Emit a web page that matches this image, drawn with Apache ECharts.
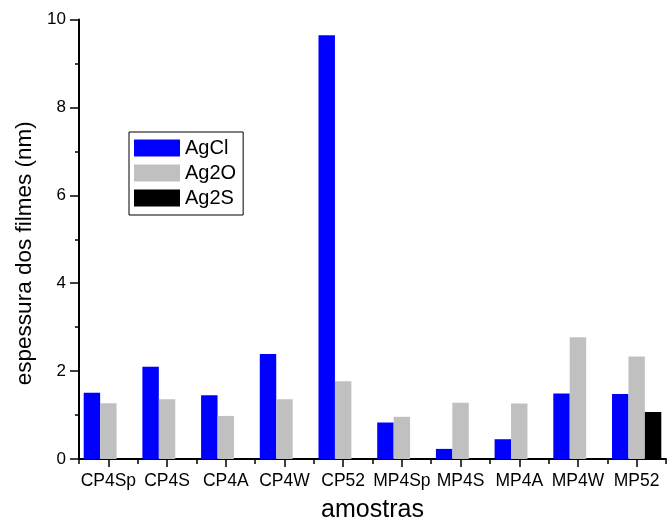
<!DOCTYPE html>
<html>
<head>
<meta charset="utf-8">
<script src="https://cdn.jsdelivr.net/npm/echarts@6/dist/echarts.min.js"></script>
<style>html,body{margin:0;padding:0;background:#fff}#c{width:667px;height:522px}</style>
</head>
<body>
<div id="c"></div>
<script>
var categories = ['CP4Sp','CP4S','CP4A','CP4W','CP52','MP4Sp','MP4S','MP4A','MP4W','MP52'];
var agcl = [1.51, 2.10, 1.45, 2.39, 9.64, 0.83, 0.23, 0.45, 1.49, 1.48];
var ag2o = [1.27, 1.36, 0.98, 1.36, 1.77, 0.96, 1.28, 1.26, 2.77, 2.33];
var ag2s = [0, 0, 0, 0, 0, 0, 0, 0, 0, 1.07];
var yTicks = [0, 2, 4, 6, 8, 10];

var FONT = 'Liberation Sans, Arial, sans-serif';
var chart = echarts.init(document.getElementById('c'), null, {renderer: 'canvas'});
chart.setOption({
  animation: false,
  backgroundColor: '#fff',
  grid: {left: 79, right: 1, top: 19.5, bottom: 63, containLabel: false, outerBoundsMode: 'none'},
  legend: {
    orient: 'vertical', left: 129, top: 132,
    padding: [6, 7, 7, 5],
    borderColor: '#000', borderWidth: 1,
    icon: 'rect',
    itemWidth: 46, itemHeight: 17, itemGap: 5,
    textStyle: {fontFamily: FONT, fontSize: 20, color: '#000'},
    data: ['AgCl', 'Ag2O', 'Ag2S']
  },
  xAxis: [{
    type: 'category', data: categories, position: 'bottom',
    axisLine: {lineStyle: {color: '#000', width: 2}},
    axisTick: {show: true, alignWithLabel: false, length: 5, lineStyle: {color: '#000', width: 1.5}},
    axisLabel: {interval: 0, margin: 13, fontFamily: FONT, fontSize: 17.5, color: '#000'},
    name: 'amostras', nameLocation: 'middle', nameGap: 38.5,
    nameTextStyle: {fontFamily: FONT, fontSize: 25, color: '#000'}
  }, {
    type: 'category', data: categories, position: 'bottom',
    axisLine: {show: false},
    axisTick: {show: true, alignWithLabel: true, length: 8, lineStyle: {color: '#000', width: 1.5}},
    axisLabel: {show: false},
    splitLine: {show: false}
  }],
  yAxis: {
    type: 'value', min: 0, max: 10, interval: 2,
    axisLine: {show: true, lineStyle: {color: '#000', width: 2}},
    axisTick: {show: true, length: 9, lineStyle: {color: '#000', width: 1.5}},
    minorTick: {show: true, splitNumber: 2, length: 4, lineStyle: {color: '#000', width: 1.5}},
    splitLine: {show: false},
    axisLabel: {margin: 13, fontFamily: FONT, fontSize: 17, color: '#000',
      formatter: function (v) { return yTicks.indexOf(v) >= 0 ? String(v) : ''; }},
    name: 'espessura dos filmes (nm)', nameLocation: 'middle', nameGap: 43,
    nameTextStyle: {fontFamily: FONT, fontSize: 22.5, color: '#000', padding: [0, 28, 0, 0]}
  },
  series: [
    {name: 'AgCl', type: 'bar', data: agcl, barGap: '0%', barCategoryGap: '16%', itemStyle: {color: '#0000FF'}},
    {name: 'Ag2O', type: 'bar', data: ag2o, barGap: '0%', barCategoryGap: '16%', itemStyle: {color: '#C0C0C0'}},
    {name: 'Ag2S', type: 'bar', data: ag2s, barGap: '0%', barCategoryGap: '16%', itemStyle: {color: '#000000'}}
  ]
});
</script>
</body>
</html>
